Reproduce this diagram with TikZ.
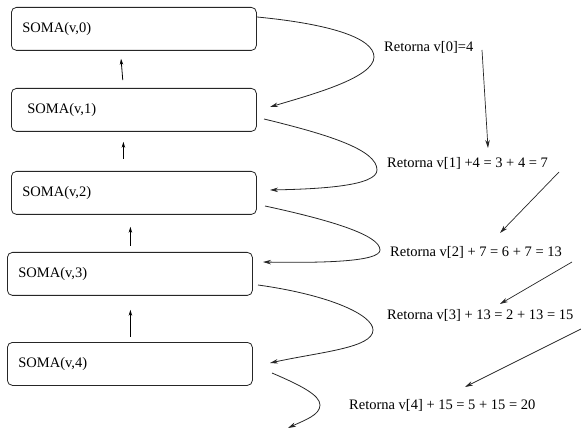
\documentclass[tikz,border=0pt]{standalone}
\usepackage{fontspec}
\setmainfont{Liberation Serif}
\usetikzlibrary{arrows.meta}
\begin{document}
\begin{tikzpicture}[x=1pt,y=-1pt,
  box/.style={draw=black!85, line width=0.8pt, rounded corners=5pt, minimum height=43pt,
    text width=223pt, inner xsep=11pt, align=left, anchor=north west,
    font=\fontsize{14.5}{16}\selectfont},
  lbl/.style={anchor=west, inner sep=0pt, font=\fontsize{14.5}{16}\selectfont},
  varrow/.style={line width=0.8pt, -{Stealth[length=6pt,width=3.5pt]}},
  carrow/.style={line width=0.8pt, draw=black!85, -{Stealth[length=8pt,width=4.5pt]}},
  rarrow/.style={line width=0.7pt, draw=black!85, -{Stealth[length=8pt,width=4.5pt]}}]
\useasboundingbox (0,0) rectangle (581,430);
% boxes
\node[box] (b0) at (11,7)   {SOMA(v,0)};
\node[box] (b1) at (11,88)  {\hspace{5pt}SOMA(v,1)};
\node[box] (b2) at (11,171) {SOMA(v,2)};
\node[box] (b3) at (7,252)  {SOMA(v,3)};
\node[box] (b4) at (7,342)  {SOMA(v,4)};
% vertical arrows
\draw[varrow, shorten <=8pt, shorten >=8pt] ([xshift=-10.5pt]b1.north) -- ([xshift=-13.5pt]b0.south);
\draw[varrow, shorten <=12pt, shorten >=10pt] ([xshift=-10.5pt]b2.north) -- ([xshift=-10.5pt]b1.south);
\draw[varrow, shorten <=6pt, shorten >=12pt] ([xshift=0.5pt]b3.north) -- ([xshift=-3.5pt]b2.south);
\draw[varrow, shorten <=5pt, shorten >=14pt] ([xshift=0.5pt]b4.north) -- ([xshift=0.5pt]b3.south);
% labels
\node[lbl] (t0) at (384,47)  {Retorna v[0]=4};
\node[lbl] (t1) at (387,163) {Retorna v[1] +4 = 3 + 4 = 7};
\node[lbl] (t2) at (390,252) {Retorna v[2] + 7 = 6 + 7 = 13};
\node[lbl] (t3) at (387,315) {Retorna v[3] + 13 = 2 + 13 = 15};
\node[lbl] (t4) at (349,405) {Retorna v[4] + 15 = 5 + 15 = 20};
% curve end points
\coordinate (s1) at (257,17);  \coordinate (e1) at (270,107);
\coordinate (s2) at (264,119); \coordinate (e2) at (270,190);
\coordinate (s3) at (265,206); \coordinate (e3) at (263,262);
\coordinate (s4) at (258,285); \coordinate (e4) at (270,363);
\coordinate (s5) at (272,373); \coordinate (e5) at (288,428);
\draw[carrow] (s1) .. controls (330,24) and (374,38) .. (374,57) .. controls (374,78) and (310,95) .. (e1);
\draw[carrow] (s2) .. controls (330,135) and (377,150) .. (377,170) .. controls (377,186) and (320,189) .. (e2);
\draw[carrow] (s3) .. controls (330,220) and (380,235) .. (380,250) .. controls (380,262) and (320,263) .. (e3);
\draw[carrow] (s4) .. controls (330,295) and (373,315) .. (373,330) .. controls (373,348) and (320,352) .. (e4);
\draw[carrow] (s5) .. controls (300,385) and (320,395) .. (320,405) .. controls (320,415) and (305,420) .. (e5);
% right arrows
\coordinate (a1) at (482,50);  \coordinate (a2) at (488,148);
\coordinate (b1s) at (559,172); \coordinate (b1e) at (500,233);
\coordinate (c1) at (572,262); \coordinate (c2) at (500,304);
\coordinate (d1) at (581,329); \coordinate (d2) at (465,387);
\draw[rarrow] (a1) -- (a2);
\draw[rarrow] (b1s) -- (b1e);
\draw[rarrow] (c1) -- (c2);
\draw[rarrow] (d1) -- (d2);
\end{tikzpicture}
\end{document}
